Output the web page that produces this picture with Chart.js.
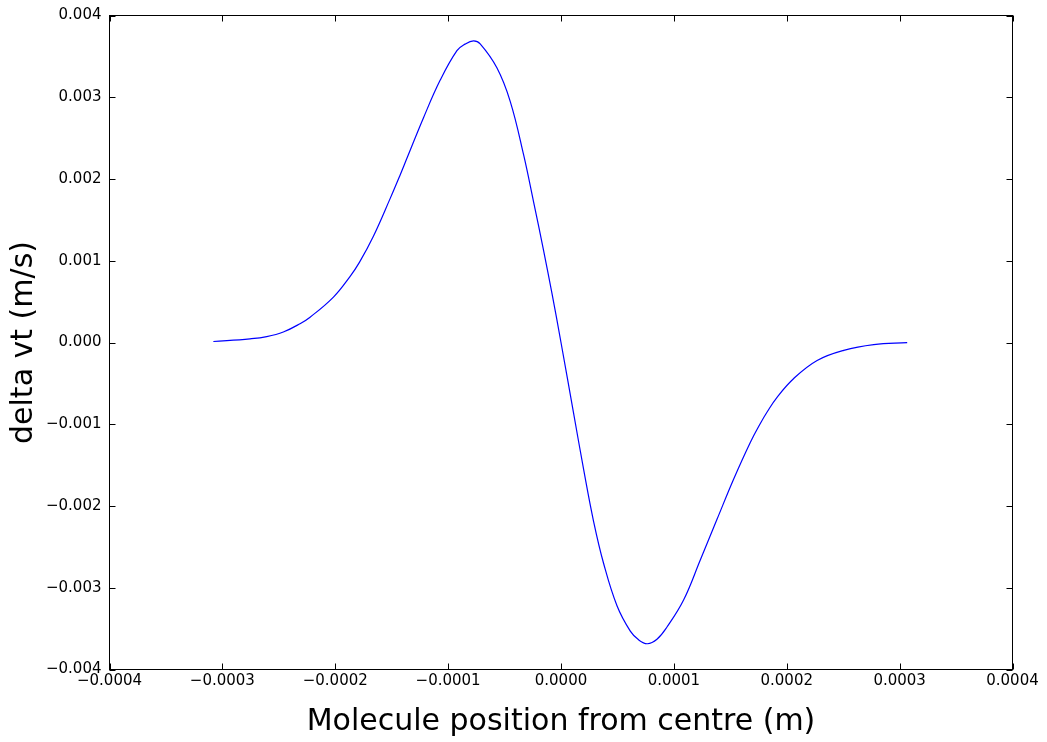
<!DOCTYPE html>
<html>
<head>
<meta charset="utf-8">
<title>delta vt</title>
<script src="https://cdn.jsdelivr.net/npm/chart.js@4.4.0/dist/chart.umd.min.js"></script>
<style>
    html, body { margin: 0; padding: 0; background: #ffffff; }
    #wrap { width: 1047px; height: 742px; }
</style>
</head>
<body>
<div id="wrap"><canvas id="chart" width="1047" height="742"></canvas></div>
<script>
// Valeurs (position en m, delta vt en m/s)
const positions = [
    -0.0003080, -0.0002755, -0.0002607, -0.0002460, -0.0002312, -0.0002223,
    -0.0002016, -0.0001868, -0.0001786, -0.0001662, -0.0001514, -0.0001425,
    -0.0001366, -0.0001218, -0.0001070, -0.0000922, -0.0000850, -0.0000775,
    -0.0000716, -0.0000568, -0.0000450, -0.0000332, -0.0000243, -0.0000155,
    -0.0000080, 0.0000000, 0.0000111, 0.0000200, 0.0000289, 0.0000377,
    0.0000496, 0.0000614, 0.0000690, 0.0000765, 0.0000850, 0.0000939,
    0.0001086, 0.0001234, 0.0001383, 0.0001530, 0.0001678, 0.0001766,
    0.0001826, 0.0001914, 0.0002062, 0.0002269, 0.0002505, 0.0002771,
    0.0003067
];
const deltaVt = [
    0.000012, 0.000045, 0.000072, 0.000128, 0.000230, 0.000310,
    0.000556, 0.000810, 0.000980, 0.001300, 0.001760, 0.002050,
    0.002250, 0.002750, 0.003210, 0.003570, 0.003650, 0.003690,
    0.003653, 0.003360, 0.002950, 0.002300, 0.001720, 0.001130,
    0.000600, 0.000000, -0.000860, -0.001550, -0.002190, -0.002700,
    -0.003220, -0.003530, -0.003640, -0.003685, -0.003630, -0.003480,
    -0.003150, -0.002660, -0.002160, -0.001670, -0.001220, -0.000990,
    -0.000850, -0.000670, -0.000440, -0.000220, -0.000096, -0.000026,
    -0.000002
];

// Graduations
const xTicks = [-0.0004, -0.0003, -0.0002, -0.0001, 0, 0.0001, 0.0002, 0.0003, 0.0004];
const xTickLabels = ['\u22120.0004', '\u22120.0003', '\u22120.0002', '\u22120.0001', '0.0000',
    '0.0001', '0.0002', '0.0003', '0.0004'];
const yTicks = [-0.004, -0.003, -0.002, -0.001, 0, 0.001, 0.002, 0.003, 0.004];
const yTickLabels = ['\u22120.004', '\u22120.003', '\u22120.002', '\u22120.001', '0.000',
    '0.001', '0.002', '0.003', '0.004'];

const FONT = "'DejaVu Sans', sans-serif";
const TICK_LEN = 6;

// Cadre + graduations internes sur les quatre côtés
const frameTicks = {
    id: 'frameTicks',
    afterDatasetsDraw(chart) {
        const { ctx, chartArea: a, scales: { x, y } } = chart;
        ctx.save();
        ctx.strokeStyle = '#000000';
        ctx.lineWidth = 1;
        ctx.beginPath();
        xTicks.forEach(v => {
            const px = Math.round(x.getPixelForValue(v)) + 0.5;
            ctx.moveTo(px, a.bottom);
            ctx.lineTo(px, a.bottom - TICK_LEN);
            ctx.moveTo(px, a.top);
            ctx.lineTo(px, a.top + TICK_LEN);
        });
        yTicks.forEach(v => {
            const py = Math.round(y.getPixelForValue(v)) + 0.5;
            ctx.moveTo(a.left, py);
            ctx.lineTo(a.left + TICK_LEN, py);
            ctx.moveTo(a.right, py);
            ctx.lineTo(a.right - TICK_LEN, py);
        });
        ctx.stroke();
        ctx.strokeRect(a.left, a.top, a.right - a.left, a.bottom - a.top);
        ctx.restore();
    }
};

const chart = new Chart(document.getElementById('chart'), {
    type: 'line',
    data: {
        datasets: [{
            data: positions.map((p, i) => ({ x: p, y: deltaVt[i] })),
            borderColor: '#0000ff',
            borderWidth: 1.2,
            pointRadius: 0,
            fill: false,
            tension: 0.4
        }]
    },
    options: {
        responsive: false,
        animation: false,
        events: [],
        layout: {
            padding: { left: 0, top: 15.5, right: 34.5, bottom: 0 }
        },
        plugins: {
            legend: { display: false },
            tooltip: { enabled: false }
        },
        scales: {
            x: {
                type: 'linear',
                min: -0.0004,
                max: 0.0004,
                grid: { display: false, drawTicks: false },
                border: { display: false },
                afterBuildTicks: (scale) => {
                    scale.ticks = xTicks.map(v => ({ value: v }));
                },
                afterFit: (scale) => {
                    scale.height = 72.5;
                    scale.paddingLeft = 0;
                    scale.paddingRight = 0;
                },
                ticks: {
                    autoSkip: false,
                    maxRotation: 0,
                    padding: 3,
                    color: '#000000',
                    font: { family: FONT, size: 15 },
                    callback: (v, i) => xTickLabels[i]
                },
                title: {
                    display: true,
                    text: 'Molecule position from centre (m)',
                    color: '#000000',
                    font: { family: FONT, size: 30 },
                    padding: { top: 0, bottom: 2 }
                }
            },
            y: {
                type: 'linear',
                min: -0.004,
                max: 0.004,
                grid: { display: false, drawTicks: false },
                border: { display: false },
                afterBuildTicks: (scale) => {
                    scale.ticks = yTicks.map(v => ({ value: v }));
                },
                afterFit: (scale) => {
                    scale.width = 109.5;
                    scale.paddingTop = 0;
                    scale.paddingBottom = 0;
                },
                ticks: {
                    autoSkip: false,
                    padding: 8,
                    color: '#000000',
                    font: { family: FONT, size: 15 },
                    callback: (v, i) => yTickLabels[i]
                },
                title: {
                    display: true,
                    text: 'delta vt (m/s)',
                    color: '#000000',
                    font: { family: FONT, size: 30 },
                    padding: { top: 6, bottom: 0 }
                }
            }
        }
    },
    plugins: [frameTicks]
});
</script>
</body>
</html>
